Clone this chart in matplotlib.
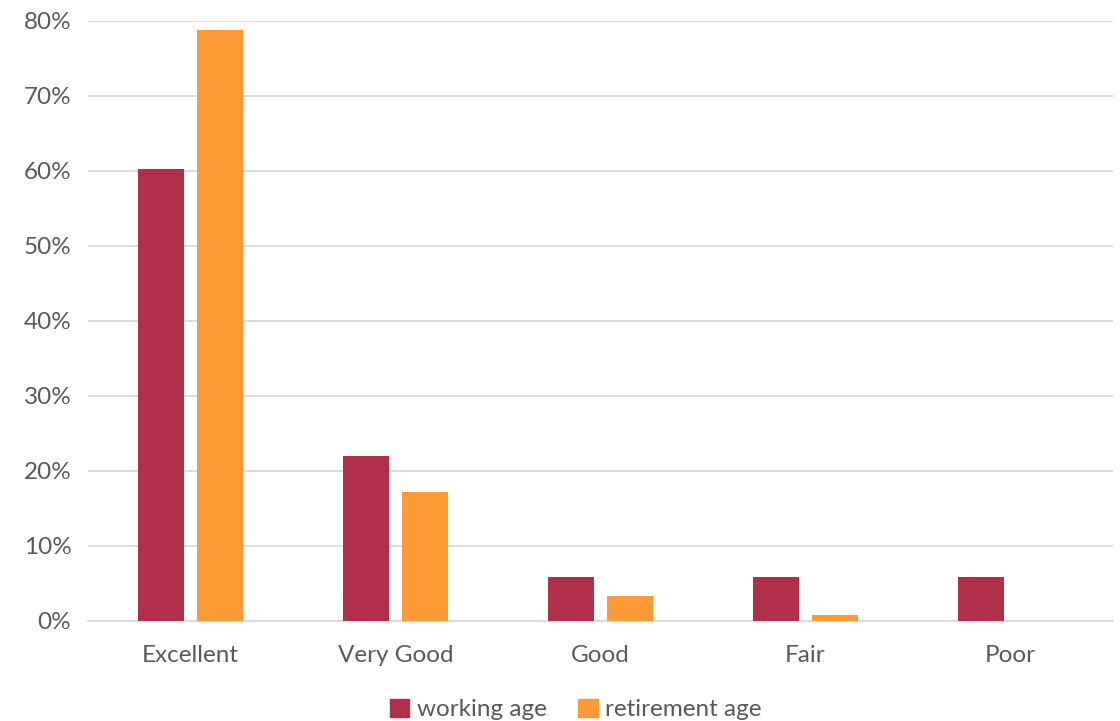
import numpy as np
import matplotlib.pyplot as plt
from matplotlib.patches import Patch
from matplotlib.ticker import PercentFormatter

plt.rcParams['font.family'] = ['Lato', 'DejaVu Sans']

categories = ['Excellent', 'Very Good', 'Good', 'Fair', 'Poor']
working_age = [0.603, 0.220, 0.059, 0.059, 0.059]
retirement_age = [0.788, 0.172, 0.033, 0.008, 0.0]

RED = '#B0304A'
ORANGE = '#FD9A35'
TEXT = '#595959'

fig = plt.figure(figsize=(11.2, 7.21), dpi=100)
ax = fig.add_axes([0.0786, 0.1387, 0.9152, 0.8322])

x = np.arange(len(categories))
w = 0.224
ax.bar(x - 0.143, working_age, w, color=RED, label='working age', zorder=3)
ax.bar(x + 0.143, retirement_age, w, color=ORANGE, label='retirement age', zorder=3)

ax.set_xlim(-0.5, 4.5)
ax.set_ylim(0, 0.8)
ax.set_yticks(np.arange(0, 0.81, 0.1))
ax.yaxis.set_major_formatter(PercentFormatter(1.0, decimals=0))
ax.set_xticks(x)
ax.set_xticklabels(categories)

ax.grid(axis='y', color='#D9D9D9', linewidth=1.3, zorder=0)
for s in ['top', 'right', 'left']:
    ax.spines[s].set_visible(False)
ax.spines['bottom'].set_color('#D9D9D9')
ax.spines['bottom'].set_linewidth(1.3)
ax.tick_params(axis='both', length=0, labelsize=17.5, colors=TEXT)
ax.tick_params(axis='x', pad=17)
ax.tick_params(axis='y', pad=12)

handles = [Patch(color=RED, label='working age'), Patch(color=ORANGE, label='retirement age')]
leg = fig.legend(handles=handles, loc='center', bbox_to_anchor=(0.514, 0.016), ncol=2,
                 frameon=False, fontsize=17.5, handlelength=0.8, handleheight=0.8,
                 handletextpad=0.3, columnspacing=1.3)
for t in leg.get_texts():
    t.set_color(TEXT)

fig.savefig('out.png', dpi=100)
